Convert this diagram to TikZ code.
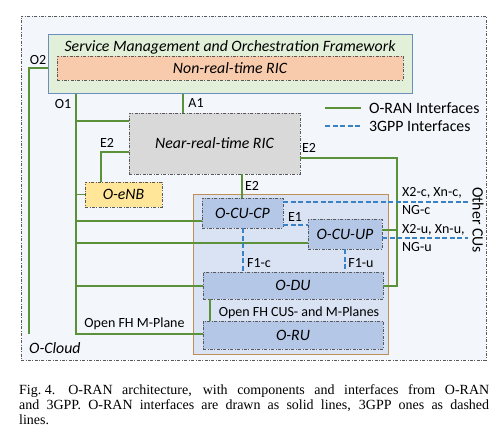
\documentclass[tikz,border=0pt]{standalone}
\usepackage{fontspec}
\setmainfont{Carlito}
\newfontfamily\capfont{Liberation Serif}
\definecolor{cloudfill}{HTML}{F3F6FB}
\definecolor{smofill}{HTML}{E2F0D9}
\definecolor{smoblue}{HTML}{6C8EBF}
\definecolor{nrtfill}{HTML}{F8CBAD}
\definecolor{grayfill}{HTML}{D9D9D9}
\definecolor{enbfill}{HTML}{FFE699}
\definecolor{cfill}{HTML}{DAE3F3}
\definecolor{cbrown}{HTML}{BF8F55}
\definecolor{cufill}{HTML}{B4C7E7}
\definecolor{ogreen}{HTML}{5B9138}
\definecolor{gblue}{HTML}{3B82C4}
\definecolor{boxgray}{HTML}{595959}
\begin{document}
\begin{tikzpicture}[x=1pt,y=-1pt,
  box/.style={draw=boxgray, line width=0.8pt, dash pattern=on 3pt off 1.5pt on 0.8pt off 1.5pt, inner sep=0pt, font=\fontsize{15.8}{18}\selectfont\itshape},
  plainbox/.style={line width=1pt, inner sep=0pt},
  oran/.style={draw=ogreen, line width=1.8pt},
  gpp/.style={draw=gblue, line width=1.8pt, dash pattern=on 5pt off 2.5pt},
  lbl/.style={font=\fontsize{14}{16}\selectfont, inner sep=0pt},
  big/.style={font=\fontsize{15.8}{18}\selectfont, inner sep=0pt}]
\useasboundingbox (0,0) rectangle (498,447);
\fill[white] (0,0) rectangle (498,447);
% containers
\node[box, fill=cloudfill, minimum width=465pt, minimum height=344pt] (cloud) at (253.5,188) {};
\node[plainbox, draw=smoblue, fill=smofill, minimum width=364pt, minimum height=59pt] (smo) at (230,63.5) {};
\node[big, font=\fontsize{15.8}{18}\selectfont\itshape] (smotext) at (230,47) {Service Management and Orchestration Framework};
\node[box, fill=nrtfill, minimum width=346pt, minimum height=24pt] (nonrt) at (230,68) {Non-real-time RIC};
\node[plainbox, draw=cbrown, fill=cfill, minimum width=195pt, minimum height=160pt] (gnb) at (290.5,274) {};
% components
\node[box, fill=grayfill, minimum width=171pt, minimum height=61pt] (nrt) at (214.5,143.5) {Near-real-time RIC};
\node[box, fill=enbfill, minimum width=77pt, minimum height=25pt] (enb) at (123.5,194.5) {O-eNB};
\node[box, fill=cufill, minimum width=81pt, minimum height=30pt] (cucp) at (242.5,213) {O-CU-CP};
\node[box, fill=cufill, minimum width=74pt, minimum height=30pt] (cuup) at (345,234) {O-CU-UP};
\node[box, fill=cufill, minimum width=180pt, minimum height=27pt] (du) at (293,285.5) {O-DU};
\node[box, fill=cufill, minimum width=180pt, minimum height=28pt] (ru) at (293,335) {O-RU};
% O-RAN interfaces
\draw[oran] (smo.west |- 0,68) -| (29,334);
\draw[oran] (smo.south -| 76,0) -- (76,334) -- (ru.west |- 0,334);
\draw[oran] (76,121) -- (nrt.west |- 0,121);
\draw[oran] (76,194.5) -- (enb.west);
\draw[oran] (76,221) -- (cucp.west |- 0,221);
\draw[oran] (76,243) -- (cuup.west |- 0,243);
\draw[oran] (76,286) -- (du.west |- 0,286);
\draw[oran] (smo.south -| 183,0) -- (nrt.north -| 183,0);
\draw[oran] (nrt.west |- 0,152) -| (enb.north -| 101,0);
\draw[oran] (nrt.south -| 242,0) -- (cucp.north -| 242,0);
\draw[oran] (nrt.east |- 0,158) -| (397,286) -- (du.east |- 0,286);
\draw[oran] (cuup.east |- 0,230) -- (397,230);
\draw[oran] (du.south -| 210,0) -- (ru.north -| 210,0);
% 3GPP interfaces
\draw[gpp] (cucp.south -| 243,0) -- (du.north -| 243,0);
\draw[gpp] (cuup.south) -- (cuup.south |- du.north);
\draw[gpp] (cucp.east |- 0,225) -- (cuup.west |- 0,225);
\draw[gpp] (cucp.east |- 0,202) -- (468,202);
\draw[gpp] (cuup.east |- 0,238) -- (468,238);
% legend
\coordinate (lg1a) at (325,108); \coordinate (lg1b) at (361,108);
\coordinate (lg2a) at (325,126); \coordinate (lg2b) at (361,126);
\draw[oran] (lg1a) -- (lg1b);
\draw[gpp] (lg2a) -- (lg2b);
\node[big, anchor=west] (lgt1) at (369,108) {O-RAN Interfaces};
\node[big, anchor=west] (lgt2) at (369,126) {3GPP Interfaces};
% labels
\node[lbl] (la1) at (196,103) {A1};
\node[lbl] (lo1) at (63,104) {O1};
\node[lbl] (lo2) at (38,60) {O2};
\node[lbl] (le2a) at (107,143) {E2};
\node[lbl] (le2b) at (252,186) {E2};
\node[lbl] (le2c) at (309,148) {E2};
\node[lbl] (le1) at (295,217) {E1};
\node[lbl] (lf1c) at (259,263) {F1-c};
\node[lbl] (lf1u) at (361,263) {F1-u};
\node[lbl, anchor=west] (lx2c) at (402,193) {X2-c, Xn-c,};
\node[lbl, anchor=west] (lngc) at (402,210) {NG-c};
\node[lbl, anchor=west] (lx2u) at (402,230) {X2-u, Xn-u,};
\node[lbl, anchor=west] (lngu) at (402,247) {NG-u};
\node[big, rotate=-90] (lother) at (478,220) {Other CUs};
\node[lbl] (lfhm) at (134.5,324) {Open FH M-Plane};
\node[lbl] (lfhcus) at (299,313) {Open FH CUS- and M-Planes};
\node[big, font=\fontsize{15.8}{18}\selectfont\itshape, anchor=west] (lcloud) at (29,348) {O-Cloud};
% caption
\node[anchor=north west, inner sep=0pt, text width=470pt, align=justify,
  font=\capfont\fontsize{14}{15}\selectfont] (caption) at (19,384)
  {\mbox{Fig.\kern3.5pt4.}\hspace*{13pt}O-RAN architecture, with components and interfaces from O-RAN\linebreak and 3GPP. O-RAN interfaces are drawn as solid lines, 3GPP ones as dashed\linebreak lines.};
\end{tikzpicture}
\end{document}
